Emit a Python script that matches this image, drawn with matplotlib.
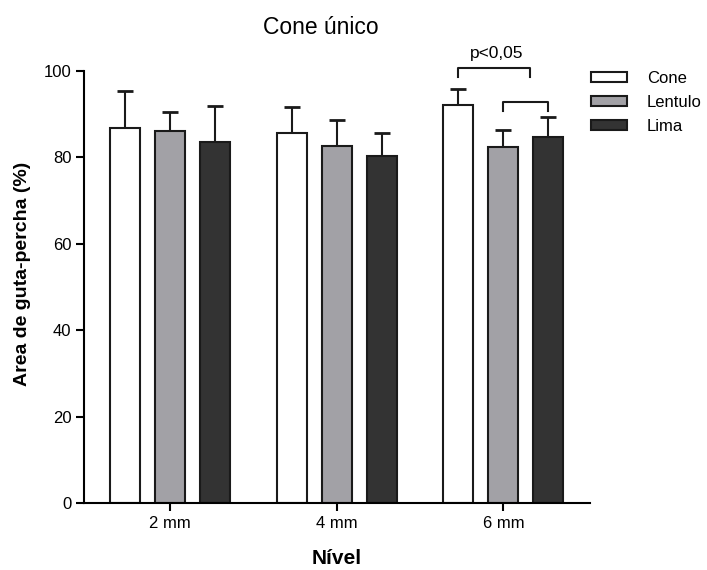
import matplotlib
matplotlib.use('Agg')
import matplotlib.pyplot as plt
import numpy as np

plt.rcParams['font.family'] = ['Liberation Sans', 'DejaVu Sans']

levels = ['2 mm', '4 mm', '6 mm']
groups = ['Cone', 'Lentulo', 'Lima']
cone = [86.7, 85.7, 92.1]
cone_sd = [8.7, 6.0, 3.7]
lentulo = [86.1, 82.6, 82.4]
lentulo_sd = [4.4, 6.0, 4.0]
lima = [83.6, 80.4, 84.7]
lima_sd = [8.4, 5.3, 4.7]

colors = ['white', '#a2a1a6', '#333333']
means = [cone, lentulo, lima]
sds = [cone_sd, lentulo_sd, lima_sd]

fig = plt.figure(figsize=(7.07, 5.70), dpi=100)
ax = fig.add_axes([84/707, 67/570, 506/707, 432/570])

x = np.arange(len(levels))
width = 0.18
offset = 0.27
handles = []
for i in range(3):
    pos = x + (i - 1) * offset
    b = ax.bar(pos, means[i], width, color=colors[i], edgecolor='#1a1a1a',
               linewidth=1.5, label=groups[i], zorder=2)
    ax.errorbar(pos, means[i], yerr=[np.zeros(3), sds[i]], fmt='none',
                ecolor='#1a1a1a', elinewidth=1.5, capsize=5.5, capthick=2, zorder=1)
    handles.append(b)

# brackets for 6 mm
def bracket(x1, x2, y, h):
    ax.plot([x1, x1, x2, x2], [y - h, y, y, y - h], color='#1a1a1a', lw=1.5,
            clip_on=False)

bracket(2 - offset, 2 + 0.16, 100.6, 2.1)
bracket(2 + 0.0, 2 + offset, 92.9, 2.2)
ax.text(2 - 0.04, 102.3, 'p<0,05', ha='center', va='bottom', fontsize=12.5)

ax.set_xlim(-0.516, 2.52)
ax.set_ylim(0, 100)
ax.set_yticks([0, 20, 40, 60, 80, 100])
ax.set_xticks(x)
ax.set_xticklabels(levels)
ax.spines['top'].set_visible(False)
ax.spines['right'].set_visible(False)
ax.spines['left'].set_linewidth(1.5)
ax.spines['bottom'].set_linewidth(1.5)
ax.tick_params(axis='both', labelsize=12, width=1.5, length=6, pad=3)

fig.text(23/707, 1 - 274/570, 'Area de guta-percha (%)', rotation=90, ha='center',
         va='center', fontsize=14, fontweight='bold')
fig.text(337/707, 1 - 558/570, 'Nível', ha='center', va='center', fontsize=15,
         fontweight='bold')
fig.text(321/707, 1 - 27/570, 'Cone único', ha='center', va='center', fontsize=16.5)

fig.legend(handles=handles, labels=groups, loc='upper left',
           bbox_to_anchor=(576/707, 1 - 56/570), frameon=False, fontsize=12,
           handlelength=2.16, handleheight=0.6, handletextpad=1.2, labelspacing=0.54)

fig.savefig('out.png', dpi=100)
